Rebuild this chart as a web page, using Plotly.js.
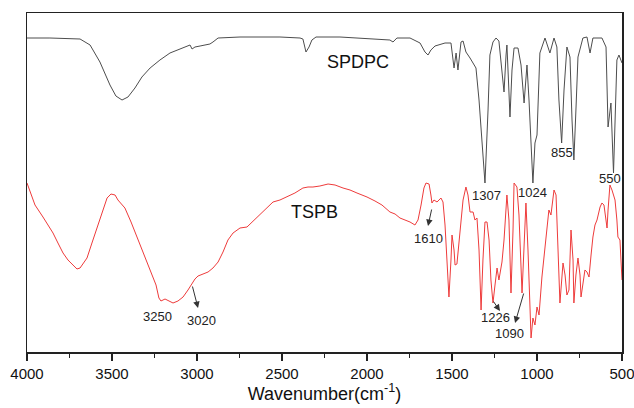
<!DOCTYPE html>
<html>
<head>
<meta charset="utf-8">
<script src="https://cdn.plot.ly/plotly-3.0.1.min.js"></script>
<style>html,body{margin:0;padding:0;background:#fff;}#chart{width:634px;height:408px;}</style>
</head>
<body>
<div id="chart"></div>
<script>
// SPDPC spectrum (wavenumber, transmittance a.u.)
var wnSPDPC = [4000,3865,3688,3629,3571,3512,3477,3441,3406,3365,3324,3276,3218,3159,3100,3041,3029,3012,2982,2953,2924,2906,2876,2747,2629,2512,2394,2377,2359,2341,2324,2300,2159,2041,1924,1865,1847,1824,1747,1688,1659,1641,1624,1600,1541,1506,1488,1476,1465,1447,1435,1418,1394,1359,1341,1318,1306,1288,1277,1259,1241,1224,1206,1194,1182,1177,1168,1159,1147,1135,1112,1094,1076,1059,1047,1024,1012,1000,983,953,924,900,883,871,855,841,824,806,794,783,771,759,730,706,688,671,618,594,582,565,550,530,518,500];
var tSPDPC  = [319,319,318,312,295,272,261,257,260,269,280,289,297,304,308,312,308,310,311,312,313,315,319,320,320,320,319,318,305,310,317,320,320,319,318,317,315,319,319,314,305,302,307,311,314,314,289,304,287,315,316,305,299,289,257,195,174,247,302,315,319,316,287,265,302,312,277,240,287,309,309,292,254,292,257,174,214,222,304,319,304,319,310,257,214,267,310,300,237,197,247,300,319,320,304,319,319,310,230,254,184,297,302,294];

// TSPB spectrum
var wnTSPB = [4000,3953,3906,3876,3847,3818,3788,3759,3729,3706,3688,3665,3647,3618,3588,3559,3529,3506,3482,3465,3441,3424,3388,3353,3324,3294,3265,3241,3224,3212,3188,3165,3141,3112,3082,3053,3029,3012,2994,2965,2935,2906,2876,2847,2818,2788,2747,2706,2676,2647,2618,2588,2553,2512,2471,2424,2377,2347,2318,2277,2229,2188,2141,2100,2059,2000,1953,1912,1865,1835,1806,1777,1747,1718,1700,1682,1665,1653,1635,1624,1618,1606,1588,1565,1553,1541,1529,1518,1506,1500,1488,1482,1471,1453,1435,1418,1406,1394,1376,1365,1353,1341,1329,1318,1306,1294,1282,1271,1259,1247,1235,1224,1206,1194,1177,1165,1153,1141,1135,1118,1106,1088,1076,1065,1053,1041,1035,1024,1012,1000,988,971,953,930,918,900,888,877,865,847,835,824,812,800,788,783,771,759,747,741,730,718,706,694,682,671,659,647,629,618,606,600,588,582,571,559,541,530,524,512,506,500];
var tTSPB  = [174,152,140,132,124,114,104,97,92,88,89,95,99,114,130,145,159,163,162,157,152,149,135,120,107,94,82,72,59,56,58,56,54,56,60,67,73,78,81,83,85,89,95,105,117,124,129,130,135,140,145,150,155,157,160,164,169,170,170,171,173,172,169,167,164,160,156,152,145,143,139,137,135,132,137,152,169,174,173,162,154,157,155,159,155,132,87,60,97,122,107,92,93,127,157,170,162,145,145,137,139,107,47,97,135,135,117,77,54,72,89,77,95,117,162,137,64,127,174,170,142,64,117,154,107,32,19,39,32,50,42,80,112,147,142,167,162,117,54,94,82,62,67,127,97,54,82,99,82,60,72,87,85,80,102,120,132,137,150,154,152,145,129,147,172,167,157,137,120,117,102,77];

// Peak labels
var peakText = ["1307","1024","855","550","1610","3250","3020","1226","1090"];
var peakWn   = [1300,1024,853,571,1641,3235,2971,1247,1159];
var peakT    = [162,165,205,179,119,41,37,40,24];

// Arrows: [tail wn, tail T, head wn, head T]
var arrowTailWn = [1618,3029,1262,1076];
var arrowTailT  = [149,72,57,65];
var arrowHeadWn = [1641,2994,1218,1129];
var arrowHeadT  = [131,49,46,34];

var seriesNames = ["SPDPC","TSPB"];
var seriesLabelWn = [2053,2306];
var seriesLabelT  = [295,145];

var xTicks = [4000,3500,3000,2500,2000,1500,1000,500];

var traces = [
  {x: wnSPDPC, y: tSPDPC, mode: 'lines', line: {color: '#4d4d4d', width: 1}, hoverinfo: 'skip'},
  {x: wnTSPB, y: tTSPB, mode: 'lines', line: {color: '#ee3b3b', width: 1}, hoverinfo: 'skip'}
];

var ann = [];
var i;
for (i = 0; i < peakText.length; i++) {
  ann.push({x: peakWn[i], y: peakT[i], xref: 'x', yref: 'y', text: peakText[i], showarrow: false,
    font: {family: 'Liberation Sans, Arial, sans-serif', size: 13, color: '#222'}});
}
for (i = 0; i < seriesNames.length; i++) {
  ann.push({x: seriesLabelWn[i], y: seriesLabelT[i], xref: 'x', yref: 'y', text: seriesNames[i], showarrow: false,
    font: {family: 'Liberation Sans, Arial, sans-serif', size: 18, color: '#111'}});
}
for (i = 0; i < arrowTailWn.length; i++) {
  ann.push({x: arrowHeadWn[i], y: arrowHeadT[i], ax: arrowTailWn[i], ay: arrowTailT[i],
    xref: 'x', yref: 'y', axref: 'x', ayref: 'y', text: '', showarrow: true,
    arrowhead: 2, arrowsize: 1.3, arrowwidth: 1, arrowcolor: '#333'});
}

var layout = {
  width: 634, height: 408,
  margin: {l: 27, r: 12, t: 13, b: 56, pad: 0},
  paper_bgcolor: '#fff', plot_bgcolor: '#fff',
  showlegend: false,
  font: {family: 'Liberation Sans, Arial, sans-serif', color: '#111'},
  xaxis: {
    range: [4000, 500], tickvals: xTicks, ticktext: xTicks.map(String),
    ticks: 'outside', ticklen: 7, tickwidth: 1.2, tickcolor: '#222',
    minor: {dtick: 250, tick0: 500, ticks: 'outside', ticklen: 4, tickcolor: '#222'},
    showline: true, linecolor: '#222', linewidth: 1.5, mirror: true,
    showgrid: false, zeroline: false, ticklabeloverflow: 'allow',
    tickfont: {size: 15, color: '#111'},
    title: {text: 'Wavenumber(cm<sup>-1</sup>)', font: {size: 18, color: '#111'}, standoff: 2}
  },
  yaxis: {
    range: [5, 344], showticklabels: false, ticks: '',
    showline: true, linecolor: '#222', linewidth: 1.5, mirror: true,
    showgrid: false, zeroline: false
  },
  annotations: ann
};

Plotly.newPlot('chart', traces, layout, {displayModeBar: false, staticPlot: true});
</script>
</body>
</html>
